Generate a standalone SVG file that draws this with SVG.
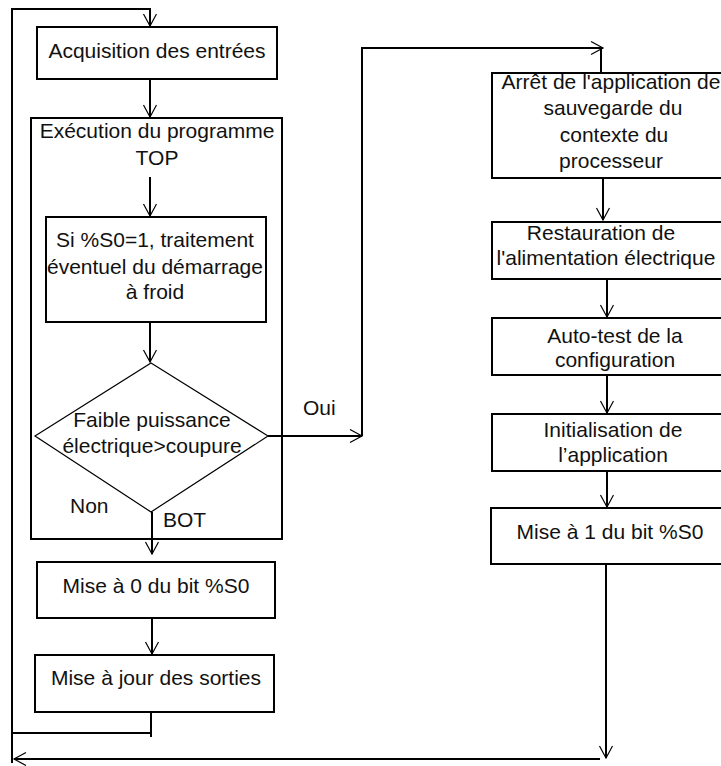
<svg xmlns="http://www.w3.org/2000/svg" width="721" height="766" viewBox="0 0 721 766">
  <style>
    .box { fill: #fff; stroke: #000; stroke-width: 2; }
    .dia { fill: #fff; stroke: #000; stroke-width: 1.2; }
    .lbl { font-family: "Liberation Sans", Arial, sans-serif; font-size: 21px; fill: #111; text-anchor: middle; }
    .tag { font-family: "Liberation Sans", Arial, sans-serif; font-size: 21px; fill: #111; }
    .wire { fill: none; stroke: #000; stroke-width: 2; }
  </style>
  <defs>
    <marker id="arr" markerUnits="userSpaceOnUse" markerWidth="16" markerHeight="16" refX="13" refY="7" orient="auto">
      <path d="M1,0.5 L13,7 L1,13.5" fill="none" stroke="#000" stroke-width="1.2"/>
    </marker>
  </defs>
  <rect width="721" height="766" fill="#fff"/>

  <!-- main cycle, left column -->
  <g id="acquisition">
    <rect class="box" x="37" y="27" width="240" height="52"/>
    <text class="lbl" x="157" y="58">Acquisition des entrées</text>
  </g>
  <g id="execution">
    <rect class="box" x="31" y="118" width="251" height="421"/>
    <text class="lbl" x="157" y="138">Exécution du programme</text>
    <text class="lbl" x="157" y="165">TOP</text>
  </g>
  <g id="demarrage-froid">
    <rect class="box" x="46" y="217" width="220" height="105"/>
    <text class="lbl" x="155" y="247">Si %S0=1, traitement</text>
    <text class="lbl" x="155" y="274">éventuel du démarrage</text>
    <text class="lbl" x="155" y="299">à froid</text>
  </g>
  <g id="test-coupure">
    <polygon class="dia" points="151,363 268,436 151,512 35,436"/>
    <text class="lbl" x="152" y="427">Faible puissance</text>
    <text class="lbl" x="152" y="453">électrique&gt;coupure</text>
  </g>
  <g id="mise-a-0">
    <rect class="box" x="37" y="562" width="238" height="56"/>
    <text class="lbl" x="156" y="593">Mise à 0 du bit %S0</text>
  </g>
  <g id="mise-a-jour">
    <rect class="box" x="35" y="655" width="239" height="57"/>
    <text class="lbl" x="156" y="685">Mise à jour des sorties</text>
  </g>

  <!-- power-return sequence, right column -->
  <g id="arret">
    <rect class="box" x="492" y="73" width="232" height="105"/>
    <text class="lbl" x="611" y="89">Arrêt de l'application de</text>
    <text class="lbl" x="613" y="115">sauvegarde du</text>
    <text class="lbl" x="614" y="142">contexte du</text>
    <text class="lbl" x="611" y="168">processeur</text>
  </g>
  <g id="restauration">
    <rect class="box" x="492" y="222" width="232" height="57"/>
    <text class="lbl" x="601" y="240">Restauration de</text>
    <text class="lbl" x="606" y="265">l'alimentation électrique</text>
  </g>
  <g id="auto-test">
    <rect class="box" x="492" y="318" width="232" height="57"/>
    <text class="lbl" x="615" y="343">Auto-test de la</text>
    <text class="lbl" x="615" y="367">configuration</text>
  </g>
  <g id="initialisation">
    <rect class="box" x="492" y="414" width="232" height="57"/>
    <text class="lbl" x="613" y="437">Initialisation de</text>
    <text class="lbl" x="613" y="462">l’application</text>
  </g>
  <g id="mise-a-1">
    <rect class="box" x="491" y="508" width="233" height="56"/>
    <text class="lbl" x="610" y="539">Mise à 1 du bit %S0</text>
  </g>

  <!-- connectors -->
  <g id="connectors">
    <path class="wire" d="M12,763 V9 H150 V26" marker-end="url(#arr)"/>
    <path class="wire" d="M150,79 V117" marker-end="url(#arr)"/>
    <path class="wire" d="M150,177 V216" marker-end="url(#arr)"/>
    <path class="wire" d="M150,322 V362" marker-end="url(#arr)"/>
    <path class="wire" d="M268,436 H362" marker-end="url(#arr)"/>
    <path class="wire" d="M362,436 V48 H603" marker-end="url(#arr)"/>
    <path class="wire" d="M601,48 V73"/>
    <path class="wire" d="M152,512 V554" marker-end="url(#arr)"/>
    <path class="wire" d="M152,618 V654" marker-end="url(#arr)"/>
    <path class="wire" d="M151,712 V737"/>
    <path class="wire" d="M12,733 H151"/>
    <path class="wire" d="M603,178 V220" marker-end="url(#arr)"/>
    <path class="wire" d="M607,279 V317" marker-end="url(#arr)"/>
    <path class="wire" d="M607,375 V413" marker-end="url(#arr)"/>
    <path class="wire" d="M607,471 V507" marker-end="url(#arr)"/>
    <path class="wire" d="M606,564 V758" marker-end="url(#arr)"/>
    <path class="wire" d="M600,759 H14" marker-end="url(#arr)"/>
  </g>

  <!-- branch labels -->
  <text class="tag" x="303" y="415">Oui</text>
  <text class="tag" x="70" y="513">Non</text>
  <text class="tag" x="163" y="527">BOT</text>
</svg>
